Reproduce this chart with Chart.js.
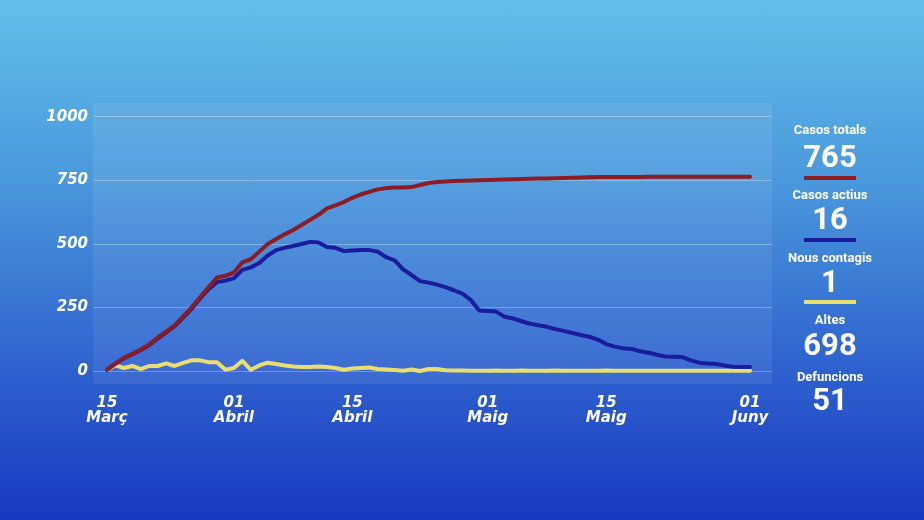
<!DOCTYPE html>
<html>
<head>
<meta charset="utf-8">
<script src="https://cdn.jsdelivr.net/npm/chart.js@4.4.1/dist/chart.umd.min.js"></script>
<style>
    html, body { margin: 0; padding: 0; }
    body {
        width: 924px; height: 520px; overflow: hidden; position: relative;
        background: linear-gradient(180deg, #63bfea 0%, #4a98dc 35%, #2f63cf 70%, #1938c2 100%);
        font-family: Roboto, "Noto Sans", sans-serif;
    }
    #chart { position: absolute; left: 0; top: 0; }
    .lbl, .num { position: absolute; left: 770px; width: 120px; text-align: center; color: #fff; font-weight: bold; }
    .lbl { font-size: 13px; line-height: 13px; }
    .num { font-size: 31px; line-height: 31px; }
    .bar { position: absolute; left: 804px; width: 52px; height: 4px; }
</style>
</head>
<body>
<canvas id="chart" width="924" height="520"></canvas>
<div id="side"></div>
<script>
// daily values, 17 March -> 1 June
let casosTotals = [5, 30, 52, 68, 85, 105, 132, 155, 180, 215, 250, 290, 330, 368, 375, 388, 428, 440, 470, 500,
    520, 538, 555, 575, 595, 615, 640, 652, 665, 682, 695, 705, 715, 720, 722, 722, 724, 732, 740, 744,
    746, 748, 749, 750, 751, 752, 753, 754, 755, 756, 757, 758, 758, 759, 760, 761, 762, 763, 764, 764,
    764, 764, 764, 764, 765, 765, 765, 765, 765, 765, 765, 765, 765, 765, 765, 765, 765]
let casosActius = [5, 28, 50, 66, 83, 102, 128, 152, 177, 210, 245, 285, 322, 350, 356, 365, 398, 408, 425, 455,
    476, 485, 492, 500, 508, 506, 488, 485, 472, 474, 476, 476, 470, 448, 436, 400, 378, 354, 348, 340,
    330, 318, 305, 280, 238, 236, 234, 214, 207, 196, 186, 180, 174, 165, 158, 150, 142, 135, 124, 106,
    96, 90, 87, 78, 72, 64, 57, 56, 55, 42, 33, 30, 28, 22, 17, 16, 16]
let nousContagis = [4, 22, 12, 20, 8, 20, 20, 30, 20, 32, 42, 42, 35, 35, 5, 12, 40, 5, 22, 33,
    28, 22, 18, 16, 16, 18, 16, 12, 5, 10, 12, 14, 8, 6, 4, 1, 6, 0, 8, 8,
    3, 2, 2, 1, 1, 1, 2, 1, 1, 2, 1, 1, 1, 2, 1, 1, 1, 1, 1, 2, 1, 1, 1, 1, 1, 1, 1,
    1, 1, 1, 1, 1, 1, 1, 1, 1, 1]

let xTickIdx = [0, 15, 29, 45, 59, 76]
let xTickLabels = [["15", "Març"], ["01", "Abril"], ["15", "Abril"], ["01", "Maig"], ["15", "Maig"], ["01", "Juny"]]
let yTicks = [0, 250, 500, 750, 1000]

let sideLabels = ["Casos totals", "Casos actius", "Nous contagis", "Altes", "Defuncions"]
let sideValues = ["765", "16", "1", "698", "51"]

let colRed = "#8c1c24"
let colBlue = "#1a1c9e"
let colYellow = "#e9de72"

// side summary
let side = document.getElementById("side")
let lblTop = [123, 188, 251, 313, 370]
let numTop = [141, 203, 266, 329, 384]
let bars = [[176, colRed], [238, colBlue], [300, colYellow]]
sideLabels.forEach((t, i) => {
    side.insertAdjacentHTML("beforeend",
        `<div class="lbl" style="top:${lblTop[i]}px">${t}</div><div class="num" style="top:${numTop[i]}px">${sideValues[i]}</div>`)
})
bars.forEach(b => side.insertAdjacentHTML("beforeend", `<div class="bar" style="top:${b[0]}px;background:${b[1]}"></div>`))

let toPoints = arr => arr.map((v, i) => ({ x: i, y: v }))

let panel = {
    id: "panel",
    beforeDraw(chart) {
        let a = chart.chartArea
        let c = chart.ctx
        c.save()
        c.fillStyle = "rgba(255,255,255,0.07)"
        c.fillRect(a.left, a.top, a.right - a.left, a.bottom - a.top)
        c.restore()
    }
}

let tickFont = { family: "'DejaVu Sans'", size: 15, weight: "bold", style: "italic", lineHeight: 1.0 }

let ctx = document.getElementById("chart").getContext("2d")
new Chart(ctx, {
    type: "line",
    data: {
        datasets: [
            { label: "Casos totals", data: toPoints(casosTotals), borderColor: colRed },
            { label: "Casos actius", data: toPoints(casosActius), borderColor: colBlue },
            { label: "Nous contagis", data: toPoints(nousContagis), borderColor: colYellow },
        ],
    },
    options: {
        responsive: false,
        animation: false,
        devicePixelRatio: 1,
        layout: { padding: { top: 103, right: 152, left: 0, bottom: 0 } },
        elements: {
            line: { borderWidth: 4, tension: 0, borderCapStyle: "round", borderJoinStyle: "round" },
            point: { radius: 0 },
        },
        plugins: { legend: { display: false }, tooltip: { enabled: false } },
        scales: {
            x: {
                type: "linear",
                min: -1.65,
                max: 78.6,
                afterFit: s => { s.height = 136 },
                afterBuildTicks: s => { s.ticks = xTickIdx.map(v => ({ value: v })) },
                grid: { display: false },
                border: { display: false },
                ticks: {
                    color: "#fff",
                    font: tickFont,
                    padding: 4,
                    maxRotation: 0,
                    autoSkip: false,
                    callback: v => xTickLabels[xTickIdx.indexOf(v)],
                },
            },
            y: {
                min: -51,
                max: 1055,
                afterFit: s => { s.width = 93 },
                afterBuildTicks: s => { s.ticks = yTicks.map(v => ({ value: v })) },
                grid: { color: "rgba(255,255,255,0.28)", lineWidth: 1, drawTicks: false },
                border: { display: false },
                ticks: { color: "#fff", font: tickFont, padding: 5, callback: v => String(v) },
            },
        },
    },
    plugins: [panel],
});
</script>
</body>
</html>
